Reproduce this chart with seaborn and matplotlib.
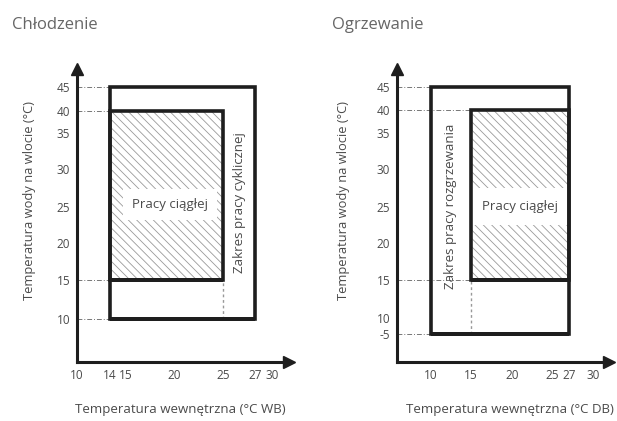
import numpy as np
import pandas as pd
import matplotlib
matplotlib.use("Agg")
import matplotlib.pyplot as plt
from matplotlib import transforms
import seaborn as sns

# ---------------- data ----------------
titles = ["Chłodzenie", "Ogrzewanie"]
ylabel = "Temperatura wody na wlocie (°C)"
xlabels = ["Temperatura wewnętrzna (°C WB)", "Temperatura wewnętrzna (°C DB)"]

cool_outer_x = [14, 27]
cool_outer_y = [10, 45]
cool_inner_x = [14, 25]
cool_inner_y = [15, 40]
cool_xticks = [10, 14, 15, 20, 25, 27, 30]
cool_yticks = [10, 15, 20, 25, 30, 35, 40, 45]
cool_labels = ["Pracy ciągłej", "Zakres pracy cyklicznej"]

heat_outer_x = [10, 27]
heat_outer_y = [-5, 45]
heat_inner_x = [15, 27]
heat_inner_y = [15, 40]
heat_xticks = [10, 15, 20, 25, 27, 30]
heat_yticks = [-5, 10, 15, 20, 25, 30, 35, 40, 45]
heat_labels = ["Pracy ciągłej", "Zakres pracy rozgrzewania"]

# ---------------- layout (distorted axis scales, in pixels) ----------------
W, H = 617, 421
cool_x_scale = ([10, 14, 15, 20, 25, 27, 30, 31], [77, 110, 125.7, 174, 222.7, 255.3, 271.7, 283])
cool_y_scale = ([5, 10, 15, 20, 25, 30, 35, 40, 45, 47],
                [361.7, 319, 280, 243.3, 206.7, 169.3, 132.7, 110.7, 86.7, 75])
heat_x_scale = ([6, 10, 15, 20, 25, 27, 30, 31], [397.3, 430.7, 470.7, 511.7, 552.3, 569, 593.3, 603])
heat_y_scale = ([-20, -5, 10, 15, 20, 25, 30, 35, 40, 45, 47],
                [361.7, 334, 318, 280, 243.3, 206.7, 169.3, 133, 110, 86.7, 75])

sns.set_theme(style="white")
plt.rcParams["font.family"] = ["Open Sans", "DejaVu Sans"]
plt.rcParams["hatch.linewidth"] = 0.6

TXT = "#4a4a4a"
LINE = "#1e1e1e"

fig = plt.figure(figsize=(W / 100, H / 100), dpi=100)


def make_axes(xs, ys):
    xv, xp = np.array(xs[0], float), np.array(xs[1], float)
    yv, yp = np.array(ys[0], float), H - np.array(ys[1], float)
    ax = fig.add_axes([xp[0] / W, yp[0] / H, (xp[-1] - xp[0]) / W, (yp[-1] - yp[0]) / H])
    ax.set_xscale("function", functions=(lambda v: np.interp(v, xv, xp), lambda p: np.interp(p, xp, xv)))
    ax.set_yscale("function", functions=(lambda v: np.interp(v, yv, yp), lambda p: np.interp(p, yp, yv)))
    ax.set_xlim(xv[0], xv[-1])
    ax.set_ylim(yv[0], yv[-1])
    ax.patch.set_alpha(0)
    return ax


def box_df(bx, by):
    return pd.DataFrame({"x": [bx[0], bx[1], bx[1], bx[0], bx[0], bx[1]],
                         "y": [by[0], by[0], by[1], by[1], by[0], by[0]]})


def draw_chart(ax, outer_x, outer_y, inner_x, inner_y, xticks, yticks, labels,
               vert_x, label_pos, rot_pos, pad):
    x0 = ax.get_xlim()[0]
    # guide lines
    dash = (0, (5, 2, 1, 2))
    for yy, xe in [(outer_y[0], outer_x[0]), (outer_y[1], outer_x[0]),
                   (inner_y[0], inner_x[0]), (inner_y[1], inner_x[0])]:
        ax.plot([x0, xe], [yy, yy], ls=dash, color="#777777", lw=0.7, zorder=1)
    ax.plot([vert_x, vert_x], [outer_y[0], inner_y[0]], ls=(0, (2, 2)), color="#999999", lw=1.0, zorder=1)

    # hatched continuous-operation region
    ax.fill_between(inner_x, inner_y[0], inner_y[1], facecolor="white", edgecolor="#9a9a9a",
                    hatch="\\\\\\\\", linewidth=0, zorder=2)

    # outlines
    for bx, by in [(outer_x, outer_y), (inner_x, inner_y)]:
        sns.lineplot(data=box_df(bx, by), x="x", y="y", sort=False, estimator=None, ax=ax,
                     color=LINE, lw=2.6, solid_joinstyle="miter", solid_capstyle="butt", zorder=4)

    ax.text(label_pos[0], label_pos[1], labels[0], ha="center", va="center", fontsize=9.5, color=TXT,
            zorder=3, bbox=dict(boxstyle="square,pad=%s" % pad, fc="white", ec="none"))
    ax.text(rot_pos[0], rot_pos[1], labels[1], ha="center", va="center", rotation=90,
            fontsize=9.5, color=TXT, zorder=3)

    # axes styling
    ax.set_xticks(xticks)
    ax.set_xticklabels([str(t) for t in xticks])
    ax.set_yticks(yticks)
    ax.set_yticklabels([str(t) for t in yticks])
    ax.tick_params(axis="both", direction="in", colors="#333333", labelcolor=TXT, labelsize=8.5)
    ax.tick_params(axis="x", length=10.8, width=1.3, pad=5)
    ax.tick_params(axis="y", length=7.2, width=1.0, pad=5)
    ax.set_xlabel("")
    ax.set_ylabel("")
    for s in ["top", "right"]:
        ax.spines[s].set_visible(False)
    for s in ["left", "bottom"]:
        ax.spines[s].set_linewidth(2.2)
        ax.spines[s].set_color(LINE)
        ax.spines[s].set_capstyle("projecting")
    up = transforms.offset_copy(ax.transAxes, fig=fig, x=0, y=6, units="dots")
    rt = transforms.offset_copy(ax.transAxes, fig=fig, x=6, y=0, units="dots")
    ax.plot([0], [1], marker="^", ms=9, color=LINE, transform=up, clip_on=False)
    ax.plot([1], [0], marker=">", ms=9, color=LINE, transform=rt, clip_on=False)


ax1 = make_axes(cool_x_scale, cool_y_scale)
draw_chart(ax1, cool_outer_x, cool_outer_y, cool_inner_x, cool_inner_y, cool_xticks, cool_yticks,
           cool_labels, vert_x=cool_inner_x[1], label_pos=(19.6, 25.3), rot_pos=(26, 25.6), pad=0.7)

ax2 = make_axes(heat_x_scale, heat_y_scale)
draw_chart(ax2, heat_outer_x, heat_outer_y, heat_inner_x, heat_inner_y, heat_xticks, heat_yticks,
           heat_labels, vert_x=heat_inner_x[0], label_pos=(21, 25), rot_pos=(12.5, 25), pad=0.9)

# titles & axis labels
fig.text(12 / W, 1 - 29 / H, titles[0], fontsize=12, color="#666666", va="baseline", ha="left")
fig.text(332 / W, 1 - 29 / H, titles[1], fontsize=12, color="#666666", va="baseline", ha="left")
fig.text(30 / W, 1 - 200 / H, ylabel, rotation=90, ha="center", va="center", fontsize=9.3, color=TXT)
fig.text(343 / W, 1 - 200 / H, ylabel, rotation=90, ha="center", va="center", fontsize=9.3, color=TXT)
fig.text(180 / W, 1 - 410 / H, xlabels[0], ha="center", va="center", fontsize=9.5, color=TXT)
fig.text(510 / W, 1 - 410 / H, xlabels[1], ha="center", va="center", fontsize=9.5, color=TXT)

fig.savefig("out.png", dpi=100, facecolor="white")
